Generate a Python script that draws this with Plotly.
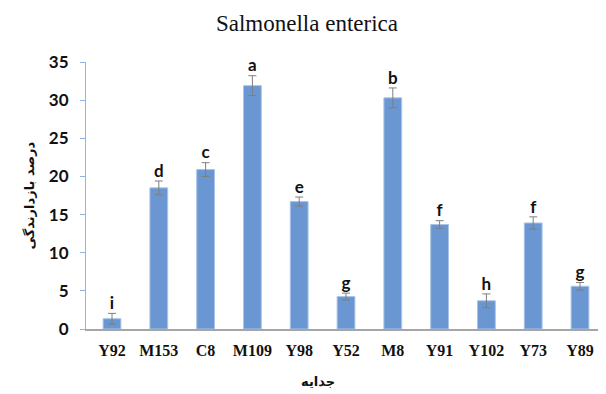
import plotly.graph_objects as go

categories = ["Y92", "M153", "C8", "M109", "Y98", "Y52", "M8", "Y91", "Y102", "Y73", "Y89"]
values = [1.35, 18.5, 20.9, 31.9, 16.7, 4.25, 30.3, 13.7, 3.7, 13.9, 5.6]
errors = [0.7, 0.9, 0.9, 1.3, 0.6, 0.45, 1.3, 0.5, 0.9, 0.8, 0.5]
letters = ["i", "d", "c", "a", "e", "g", "b", "f", "h", "f", "g"]
y_ticks = [0, 5, 10, 15, 20, 25, 30, 35]

fig = go.Figure()
fig.add_trace(go.Bar(
    x=categories, y=values, width=0.38,
    marker=dict(color="#6a96d1", line=dict(color="#a9c4e8", width=1)),
    error_y=dict(type="data", array=errors, visible=True, color="#7f7f7f", thickness=1, width=4),
    showlegend=False,
))
fig.add_trace(go.Scatter(
    x=categories, y=[v + e for v, e in zip(values, errors)], mode="text",
    text=letters, textposition="top center",
    textfont=dict(family="Lato, Open Sans, sans-serif", size=17, color="#111111", weight="bold"),
    showlegend=False, cliponaxis=False,
))

fig.update_layout(
    width=598, height=386,
    margin=dict(l=78, r=0, t=54, b=65),
    plot_bgcolor="white", paper_bgcolor="white",
    title=dict(text="Salmonella enterica", x=0.5, xanchor="center", y=0.962, yanchor="middle",
               font=dict(family="Liberation Serif, Times New Roman, serif", size=23, color="#111111")),
    xaxis=dict(
        showline=True, linecolor="#a6a6a6", linewidth=1.5, ticks="",
        tickfont=dict(family="Liberation Serif, Times New Roman, serif", size=16, color="#111111", weight="bold"),
        showgrid=False, ticklabelstandoff=6,
    ),
    yaxis=dict(
        range=[0, 35], tickvals=y_ticks, showline=True, linecolor="#8eb4e3", linewidth=1,
        ticks="outside", tickcolor="#8eb4e3", ticklen=5,
        tickfont=dict(family="Lato, Open Sans, sans-serif", size=17, color="#111111", weight="bold"),
        showgrid=False, zeroline=False, ticklabelstandoff=8,
    ),
    annotations=[
        dict(text="درصد بازدارندگی", xref="paper", yref="paper", x=-0.1077, y=0.50,
             xanchor="center", yanchor="middle", textangle=-90, showarrow=False,
             font=dict(family="DejaVu Sans, sans-serif", size=13, color="#111111", weight="bold")),
        dict(text="جدایه", xref="paper", yref="paper", x=0.446, y=-0.1985,
             xanchor="center", yanchor="middle", showarrow=False,
             font=dict(family="DejaVu Sans, sans-serif", size=13, color="#111111", weight="bold")),
    ],
)

fig.write_html("out.html")
